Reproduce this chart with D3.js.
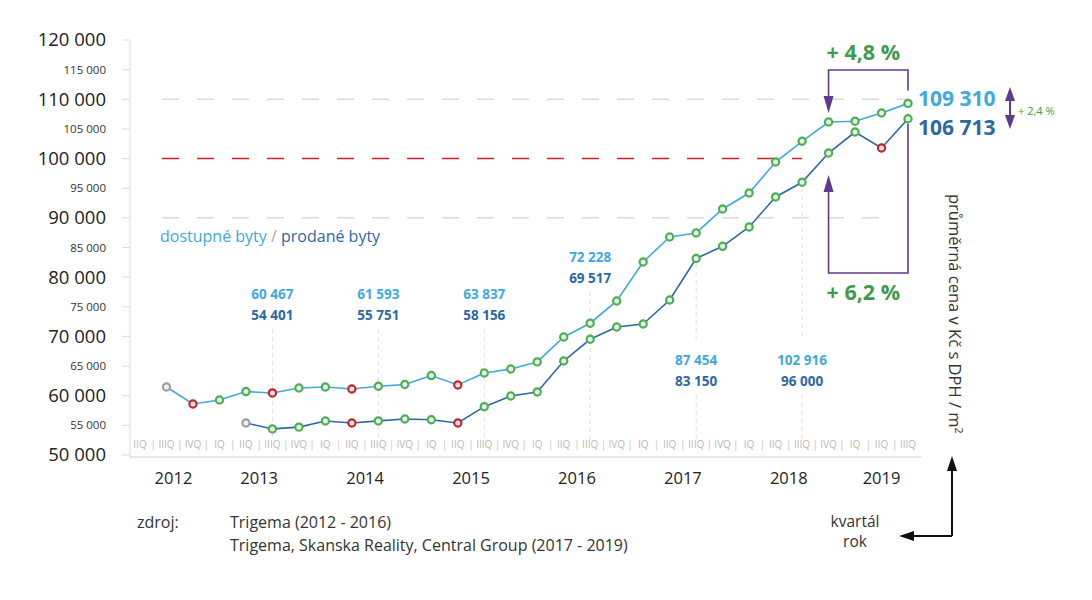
<!DOCTYPE html>
<html><head><meta charset="utf-8">
<script src="https://cdn.jsdelivr.net/npm/d3@7"></script>
<style>body{margin:0;background:#fff;} svg{font-family:"Open Sans",Lato,sans-serif;}</style>
</head><body><svg id="c" width="1092" height="600"></svg>
<script>
// ---- data ----
const quarters = ["2012 IIQ","2012 IIIQ","2012 IVQ",
  "2013 IQ","2013 IIQ","2013 IIIQ","2013 IVQ",
  "2014 IQ","2014 IIQ","2014 IIIQ","2014 IVQ",
  "2015 IQ","2015 IIQ","2015 IIIQ","2015 IVQ",
  "2016 IQ","2016 IIQ","2016 IIIQ","2016 IVQ",
  "2017 IQ","2017 IIQ","2017 IIIQ","2017 IVQ",
  "2018 IQ","2018 IIQ","2018 IIIQ","2018 IVQ",
  "2019 IQ","2019 IIQ","2019 IIIQ"];
const years = ["2012","2013","2014","2015","2016","2017","2018","2019"];
const yTicks = [50000,55000,60000,65000,70000,75000,80000,85000,90000,95000,100000,105000,110000,115000,120000];

const availableStart = "2012 IIIQ";   // dostupné byty
const availableValues = [61470,58610,59280,60700,60467,61300,61470,61130,61593,61900,63400,61810,63837,
  64510,65700,69910,72228,75980,82560,86770,87454,91500,94190,99420,102916,106170,106300,107690,109310];
const soldStart = "2013 IIQ";         // prodané byty
const soldValues = [55400,54401,54700,55740,55400,55751,56070,55950,55400,58156,
  59950,60630,65860,69517,71590,72100,76150,83150,85200,88460,93520,96000,100940,104480,101780,106713];
const availableDeclines = ["2012 IVQ","2013 IIIQ","2014 IIQ","2015 IIQ"];
const soldDeclines = ["2014 IIQ","2015 IIQ","2019 IIQ"];
const annotatedQuarters = ["2013 IIIQ","2014 IIIQ","2015 IIIQ","2016 IIIQ","2017 IIIQ","2018 IIIQ"];
const gridLines = [{v:110000,c:"#d9d9d9",x2q:"2019 IIIQ"},{v:100000,c:"#c8232c",x2q:"2018 IIIQ"},{v:90000,c:"#d9d9d9",x2q:"2019 IIQ"}];
const changeTop = "+ 4,8 %", changeBottom = "+ 6,2 %", changeRight = "+ 2,4 %";

// ---- build ----
const svg = d3.select("#c");
const x = d3.scalePoint().domain(quarters).range([140, 908]);
const y = d3.scaleLinear().domain([50000,120000]).range([455, 40]);
const fmt = v => d3.format(",")(v).replace(/,/g, " ");
const cLight = "#3fa9de", cDark = "#2c69a3", cGreen = "#3f9b4c", cPurple = "#5f3a8f";

function series(start, vals, decl) {
  const i0 = quarters.indexOf(start);
  return vals.map((v, i) => ({q: quarters[i0 + i], v, first: i === 0, red: decl.includes(quarters[i0 + i])}));
}
const avail = series(availableStart, availableValues, availableDeclines);
const sold = series(soldStart, soldValues, soldDeclines);

// y axis
svg.append("line").attr("x1",130).attr("x2",130).attr("y1",y(120000)).attr("y2",457).attr("stroke","#ddd");
yTicks.forEach(t => {
  const big = t % 10000 === 0;
  svg.append("line").attr("x1",122).attr("x2",130).attr("y1",y(t)).attr("y2",y(t)).attr("stroke","#ddd");
  svg.append("text").attr("x",106).attr("y",y(t)).attr("dy","0.35em").attr("text-anchor","end")
    .attr("font-size", big ? 18.5 : 11.5).attr("fill", big ? "#222" : "#333").text(fmt(t));
});

// grid lines
gridLines.forEach(g => {
  svg.append("line").attr("x1",162).attr("x2",x(g.x2q)).attr("y1",y(g.v)).attr("y2",y(g.v))
    .attr("stroke",g.c).attr("stroke-width",1.5).attr("stroke-dasharray","17,18");
});

// x axis
svg.append("line").attr("x1",130).attr("x2",921).attr("y1",457).attr("y2",457).attr("stroke","#ccc");
const step = x.step();
svg.selectAll(".ql").data(quarters).join("text").attr("x", d => x(d)).attr("y",448).attr("text-anchor","middle")
  .attr("font-size",10).attr("fill","#b8b8b8").text(d => d.split(" ")[1]);
svg.selectAll(".qs").data(quarters.slice(1)).join("text").attr("x", d => x(d) - step/2).attr("y",448).attr("text-anchor","middle")
  .attr("font-size",11).attr("fill","#c8c8c8").text("|");
years.forEach(yr => {
  const qs = quarters.filter(q => q.startsWith(yr));
  const cx = d3.mean(qs, q => x(q));
  svg.append("text").attr("x",cx + (yr==="2012"?7:0)).attr("y",484).attr("text-anchor","middle")
    .attr("font-size",16.5).attr("fill","#222").text(yr);
});

// annotation dotted lines + labels
annotatedQuarters.forEach(q => {
  const a = avail.find(d => d.q === q).v, s = sold.find(d => d.q === q).v;
  const xx = x(q);
  const below = a > 80000;
  const t1 = below ? 365 : (a > 70000 ? 262 : 299);
  if (below) {
    svg.append("line").attr("x1",xx).attr("x2",xx).attr("y1",y(s)+6).attr("y2",340).attr("stroke","#ddd").attr("stroke-dasharray","4,4");
    svg.append("line").attr("x1",xx).attr("x2",xx).attr("y1",395).attr("y2",440).attr("stroke","#ddd").attr("stroke-dasharray","4,4");
  } else {
    svg.append("line").attr("x1",xx).attr("x2",xx).attr("y1",t1+30).attr("y2",440).attr("stroke","#ddd").attr("stroke-dasharray","4,4");
  }
  svg.append("text").attr("x",xx).attr("y",t1).attr("text-anchor","middle").attr("font-size",13.5).attr("font-weight","bold").attr("fill",cLight).text(fmt(a));
  svg.append("text").attr("x",xx).attr("y",t1+21).attr("text-anchor","middle").attr("font-size",13.5).attr("font-weight","bold").attr("fill",cDark).text(fmt(s));
});

// lines
const line = d3.line().x(d => x(d.q)).y(d => y(d.v));
svg.append("path").datum(avail).attr("d",line).attr("fill","none").attr("stroke",cLight).attr("stroke-width",1.6);
svg.append("path").datum(sold).attr("d",line).attr("fill","none").attr("stroke",cDark).attr("stroke-width",1.6);
[avail, sold].forEach(ser => {
  svg.append("g").selectAll("circle").data(ser).join("circle")
    .attr("cx", d => x(d.q)).attr("cy", d => y(d.v)).attr("r",3.6)
    .attr("fill", d => d.first ? "#f2f2f2" : d.red ? "#f7e0e0" : "#e6f4e6")
    .attr("stroke", d => d.first ? "#9e9e9e" : d.red ? "#c0272d" : "#4cae55").attr("stroke-width",2.2);
});

// legend
const lg = svg.append("text").attr("x",160).attr("y",242).attr("font-size",16);
lg.append("tspan").attr("fill",cLight).text("dostupné byty");
lg.append("tspan").attr("fill","#aaa").text(" / ");
lg.append("tspan").attr("fill",cDark).text("prodané byty");

// right end labels
const lastA = avail[avail.length-1], lastS = sold[sold.length-1];
const xe = x(lastA.q);
svg.append("text").attr("x",xe+10).attr("y",y(lastA.v)+3).attr("font-size",21).attr("font-weight","bold").attr("fill",cLight).text(fmt(lastA.v));
svg.append("text").attr("x",xe+10).attr("y",y(lastS.v)+16).attr("font-size",21).attr("font-weight","bold").attr("fill",cDark).text(fmt(lastS.v));

// double arrow
const ax = 1010;
svg.append("line").attr("x1",ax).attr("x2",ax).attr("y1",98).attr("y2",120).attr("stroke",cPurple).attr("stroke-width",2);
svg.append("path").attr("d",`M${ax},87 L${ax-5},101 L${ax+5},101 Z`).attr("fill",cPurple);
svg.append("path").attr("d",`M${ax},129 L${ax-5},115 L${ax+5},115 Z`).attr("fill",cPurple);
svg.append("text").attr("x",1018).attr("y",115).attr("font-size",11).attr("fill",cGreen).text(changeRight);

// brackets
const qRef = "2018 IVQ";
const xb = x(qRef);
const aRef = avail.find(d => d.q === qRef).v, sRef = sold.find(d => d.q === qRef).v;
const topTip = y(aRef) - 9;
svg.append("path").attr("d",`M${xb},${topTip-14} L${xb},70 L${xe},70 L${xe},${y(lastA.v)-13}`).attr("fill","none").attr("stroke",cPurple).attr("stroke-width",1.6);
svg.append("path").attr("d",`M${xb},${topTip} L${xb-5},${topTip-17} L${xb+5},${topTip-17} Z`).attr("fill",cPurple);
const botTip = y(sRef) + 22;
svg.append("path").attr("d",`M${xe},${y(lastS.v)+5} L${xe},273 L${xb},273 L${xb},${botTip+15}`).attr("fill","none").attr("stroke",cPurple).attr("stroke-width",1.6);
svg.append("path").attr("d",`M${xb},${botTip} L${xb-5},${botTip+17} L${xb+5},${botTip+17} Z`).attr("fill",cPurple);
svg.append("text").attr("x",xb-2).attr("y",60).attr("font-size",21.5).attr("font-weight","bold").attr("fill",cGreen).text(changeTop);
svg.append("text").attr("x",xb-2).attr("y",300).attr("font-size",21.5).attr("font-weight","bold").attr("fill",cGreen).text(changeBottom);

// y-axis title
const yt = svg.append("text").attr("transform","translate(949,194) rotate(90)").attr("font-size",16.5).attr("fill","#333");
yt.append("tspan").text("průměrná cena v Kč s DPH / m");
yt.append("tspan").attr("font-size",10.5).attr("dy",-6).text("2");

// axis legend arrows
svg.append("line").attr("x1",952).attr("x2",952).attr("y1",536).attr("y2",468).attr("stroke","#111").attr("stroke-width",2);
svg.append("path").attr("d","M952,456 L947,471 L957,471 Z").attr("fill","#111");
svg.append("line").attr("x1",952).attr("x2",912).attr("y1",536).attr("y2",536).attr("stroke","#111").attr("stroke-width",2);
svg.append("path").attr("d","M899,536 L914,531 L914,541 Z").attr("fill","#111");
svg.append("text").attr("x",855).attr("y",527).attr("text-anchor","middle").attr("font-size",15.5).attr("fill","#333").text("kvartál");
svg.append("text").attr("x",855).attr("y",547).attr("text-anchor","middle").attr("font-size",15.5).attr("fill","#333").text("rok");

// source
svg.append("text").attr("x",137).attr("y",528).attr("font-size",16).attr("fill","#333").text("zdroj:");
svg.append("text").attr("x",230).attr("y",528).attr("font-size",16).attr("fill","#333").text("Trigema (2012 - 2016)");
svg.append("text").attr("x",230).attr("y",551).attr("font-size",16).attr("fill","#333").text("Trigema, Skanska Reality, Central Group (2017 - 2019)");
</script></body></html>
